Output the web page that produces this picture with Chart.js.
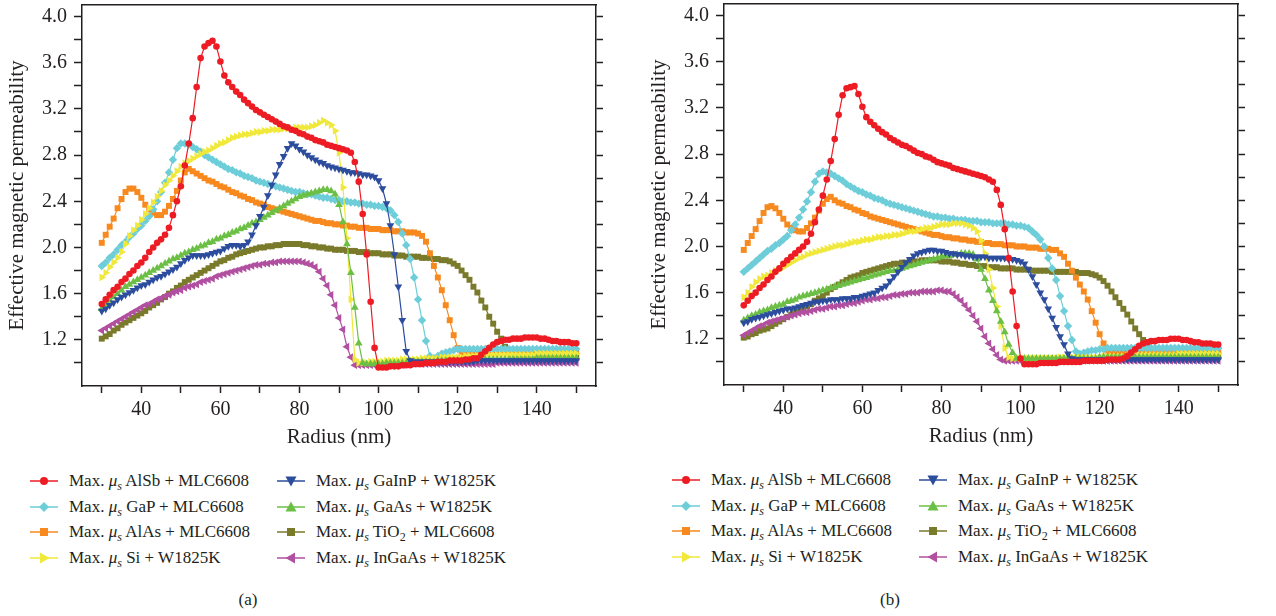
<!DOCTYPE html>
<html>
<head>
<meta charset="utf-8">
<script src="https://cdn.jsdelivr.net/npm/chart.js@4.4.1/dist/chart.umd.min.js"></script>
<style>
    html, body { margin: 0; padding: 0; background: #fff; }
    body {
        width: 1276px; height: 616px; position: relative; overflow: hidden;
        font-family: "Liberation Serif", "DejaVu Serif", serif; color: #231f20;
    }
    .panel { position: absolute; top: 0; width: 640px; height: 616px; }
    .panel canvas { position: absolute; left: 0; top: 0; }
    .legend-item {
        position: absolute; height: 24px; display: flex; align-items: center;
        font-size: 17px; white-space: nowrap;
    }
    .legend-item svg { margin-right: 11px; flex: none; }
    .legend-item sub { font-size: 12px; line-height: 0; vertical-align: -4px; }
    .caption { position: absolute; top: 590px; width: 40px; margin-left: -20px; text-align: center; font-size: 17px; }
</style>
</head>
<body>
<div class="panel" id="panelA" style="left:0"><canvas id="chartA" width="640" height="450"></canvas></div>
<div class="panel" id="panelB" style="left:642px;top:-1px"><canvas id="chartB" width="640" height="450"></canvas></div>
<div class="caption" style="left:248px">(a)</div>
<div class="caption" style="left:890px">(b)</div>

<script>
// radius axis (nm), one sample per nanometre
const radius = Array.from({ length: 121 }, (_, i) => 30 + i);

const xTicks = [30, 40, 50, 60, 70, 80, 90, 100, 110, 120, 130, 140, 150];
const xLabels = [40, 60, 80, 100, 120, 140];
const yTicks = [1.0, 1.2, 1.4, 1.6, 1.8, 2.0, 2.2, 2.4, 2.6, 2.8, 3.0, 3.2, 3.4, 3.6, 3.8, 4.0];
const yLabels = ['1.2', '1.6', '2.0', '2.4', '2.8', '3.2', '3.6', '4.0'];

const materials = ['AlSb + MLC6608', 'GaP + MLC6608', 'AlAs + MLC6608', 'Si + W1825K',
    'GaInP + W1825K', 'GaAs + W1825K', 'TiO2 + MLC6608', 'InGaAs + W1825K'];

// ---- panel (a) ----
const alsbA = [
    1.51, 1.55, 1.59, 1.63, 1.66, 1.70, 1.73, 1.77, 1.80, 1.84,
    1.87, 1.91, 1.96, 2.00, 2.04, 2.07, 2.11, 2.17, 2.28, 2.40,
    2.53, 2.71, 2.90, 3.12, 3.39, 3.64, 3.74, 3.77, 3.79, 3.74,
    3.61, 3.49, 3.43, 3.39, 3.35, 3.32, 3.28, 3.25, 3.22, 3.19,
    3.17, 3.15, 3.13, 3.11, 3.09, 3.07, 3.05, 3.04, 3.02, 3.01,
    2.99, 2.98, 2.96, 2.95, 2.93, 2.92, 2.91, 2.89, 2.88, 2.87,
    2.86, 2.85, 2.84, 2.82, 2.74, 2.57, 2.29, 1.94, 1.53, 1.13,
    0.96, 0.96, 0.96, 0.97, 0.97, 0.97, 0.98, 0.98, 0.98, 0.99,
    0.99, 0.99, 1.00, 1.00, 1.00, 1.01, 1.01, 1.01, 1.02, 1.02,
    1.02, 1.02, 1.03, 1.03, 1.04, 1.04, 1.07, 1.10, 1.13, 1.16,
    1.18, 1.19, 1.20, 1.20, 1.21, 1.21, 1.21, 1.22, 1.22, 1.22,
    1.22, 1.21, 1.21, 1.20, 1.19, 1.19, 1.18, 1.18, 1.18, 1.17,
    1.17
];
const gapA = [
    1.84, 1.87, 1.91, 1.94, 1.98, 2.02, 2.05, 2.09, 2.12, 2.16,
    2.19, 2.23, 2.27, 2.33, 2.40, 2.48, 2.56, 2.65, 2.76, 2.86,
    2.90, 2.90, 2.89, 2.87, 2.85, 2.83, 2.80, 2.78, 2.76, 2.74,
    2.72, 2.70, 2.68, 2.67, 2.65, 2.64, 2.62, 2.61, 2.60, 2.58,
    2.57, 2.56, 2.55, 2.54, 2.53, 2.52, 2.51, 2.50, 2.49, 2.48,
    2.48, 2.47, 2.46, 2.46, 2.45, 2.44, 2.43, 2.43, 2.42, 2.41,
    2.41, 2.40, 2.40, 2.39, 2.39, 2.38, 2.38, 2.37, 2.37, 2.36,
    2.36, 2.35, 2.34, 2.32, 2.28, 2.22, 2.12, 2.02, 1.90, 1.74,
    1.55, 1.37, 1.19, 1.06, 1.04, 1.06, 1.08, 1.09, 1.10, 1.11,
    1.12, 1.12, 1.12, 1.12, 1.12, 1.12, 1.12, 1.12, 1.12, 1.12,
    1.12, 1.12, 1.12, 1.12, 1.12, 1.12, 1.12, 1.12, 1.12, 1.12,
    1.12, 1.12, 1.12, 1.12, 1.12, 1.12, 1.12, 1.12, 1.12, 1.12,
    1.12
];
const alasA = [
    2.04, 2.11, 2.18, 2.25, 2.34, 2.42, 2.48, 2.51, 2.51, 2.48,
    2.43, 2.37, 2.33, 2.30, 2.28, 2.28, 2.31, 2.36, 2.42, 2.49,
    2.58, 2.65, 2.68, 2.66, 2.64, 2.62, 2.60, 2.58, 2.57, 2.55,
    2.53, 2.52, 2.50, 2.48, 2.47, 2.45, 2.44, 2.42, 2.41, 2.39,
    2.38, 2.37, 2.35, 2.34, 2.33, 2.32, 2.31, 2.30, 2.29, 2.28,
    2.27, 2.26, 2.25, 2.24, 2.23, 2.23, 2.22, 2.21, 2.21, 2.20,
    2.20, 2.19, 2.19, 2.18, 2.18, 2.17, 2.17, 2.17, 2.16, 2.16,
    2.16, 2.15, 2.15, 2.15, 2.14, 2.14, 2.14, 2.13, 2.13, 2.13,
    2.12, 2.10, 2.05, 1.95, 1.84, 1.74, 1.63, 1.50, 1.37, 1.24,
    1.13, 1.08, 1.08, 1.08, 1.09, 1.09, 1.09, 1.10, 1.10, 1.10,
    1.10, 1.10, 1.10, 1.10, 1.10, 1.10, 1.10, 1.10, 1.10, 1.10,
    1.10, 1.10, 1.10, 1.10, 1.10, 1.10, 1.10, 1.10, 1.10, 1.10,
    1.10
];
const siA = [
    1.74, 1.78, 1.83, 1.87, 1.91, 1.96, 2.03, 2.10, 2.15, 2.19,
    2.24, 2.29, 2.34, 2.39, 2.44, 2.49, 2.54, 2.58, 2.62, 2.66,
    2.70, 2.73, 2.75, 2.77, 2.79, 2.81, 2.83, 2.84, 2.86, 2.88,
    2.90, 2.91, 2.93, 2.95, 2.96, 2.97, 2.98, 2.98, 2.99, 3.00,
    3.00, 3.01, 3.01, 3.02, 3.02, 3.02, 3.03, 3.03, 3.03, 3.04,
    3.04, 3.04, 3.04, 3.05, 3.06, 3.08, 3.10, 3.08, 3.06, 3.01,
    2.82, 2.52, 2.08, 1.55, 1.03, 1.00, 1.00, 1.00, 1.01, 1.01,
    1.01, 1.01, 1.02, 1.02, 1.02, 1.02, 1.03, 1.03, 1.03, 1.03,
    1.03, 1.04, 1.04, 1.04, 1.04, 1.04, 1.05, 1.05, 1.05, 1.05,
    1.05, 1.05, 1.06, 1.06, 1.06, 1.06, 1.06, 1.07, 1.07, 1.07,
    1.07, 1.07, 1.07, 1.07, 1.07, 1.07, 1.07, 1.07, 1.07, 1.07,
    1.08, 1.08, 1.08, 1.08, 1.08, 1.08, 1.08, 1.08, 1.08, 1.08,
    1.08
];
const gainpA = [
    1.45, 1.47, 1.50, 1.52, 1.55, 1.57, 1.59, 1.61, 1.63, 1.65,
    1.67, 1.68, 1.70, 1.72, 1.74, 1.75, 1.77, 1.79, 1.81, 1.83,
    1.86, 1.89, 1.91, 1.93, 1.93, 1.93, 1.93, 1.94, 1.95, 1.96,
    1.97, 1.99, 2.01, 2.02, 2.02, 2.01, 2.02, 2.05, 2.11, 2.19,
    2.27, 2.35, 2.45, 2.54, 2.63, 2.72, 2.79, 2.86, 2.90, 2.88,
    2.85, 2.83, 2.80, 2.78, 2.76, 2.74, 2.73, 2.71, 2.70, 2.69,
    2.68, 2.67, 2.66, 2.65, 2.65, 2.64, 2.63, 2.63, 2.62, 2.61,
    2.58, 2.51, 2.38, 2.19, 1.94, 1.66, 1.37, 1.10, 1.02, 1.01,
    1.01, 1.01, 1.01, 1.01, 1.01, 1.01, 1.01, 1.01, 1.01, 1.01,
    1.01, 1.01, 1.01, 1.01, 1.01, 1.02, 1.02, 1.02, 1.02, 1.02,
    1.02, 1.02, 1.02, 1.02, 1.02, 1.02, 1.02, 1.02, 1.02, 1.02,
    1.02, 1.02, 1.02, 1.02, 1.02, 1.02, 1.02, 1.02, 1.02, 1.02,
    1.02
];
const gaasA = [
    1.47, 1.50, 1.54, 1.57, 1.60, 1.63, 1.66, 1.68, 1.70, 1.72,
    1.74, 1.76, 1.78, 1.80, 1.82, 1.84, 1.86, 1.88, 1.90, 1.91,
    1.93, 1.95, 1.96, 1.98, 1.99, 2.01, 2.02, 2.04, 2.05, 2.07,
    2.08, 2.10, 2.11, 2.13, 2.14, 2.16, 2.17, 2.19, 2.21, 2.22,
    2.24, 2.26, 2.28, 2.30, 2.32, 2.34, 2.36, 2.38, 2.40, 2.42,
    2.44, 2.45, 2.46, 2.47, 2.48, 2.49, 2.50, 2.50, 2.49, 2.46,
    2.37, 2.22, 2.03, 1.78, 1.48, 1.17, 1.00, 0.99, 0.99, 0.99,
    0.99, 0.99, 1.00, 1.00, 1.00, 1.00, 1.00, 1.00, 1.01, 1.01,
    1.01, 1.01, 1.01, 1.01, 1.01, 1.02, 1.02, 1.02, 1.02, 1.02,
    1.02, 1.02, 1.02, 1.02, 1.02, 1.03, 1.03, 1.03, 1.03, 1.03,
    1.03, 1.03, 1.03, 1.03, 1.03, 1.03, 1.03, 1.03, 1.03, 1.03,
    1.04, 1.04, 1.04, 1.04, 1.04, 1.04, 1.04, 1.04, 1.04, 1.04,
    1.04
];
const tio2A = [
    1.21, 1.23, 1.25, 1.28, 1.30, 1.33, 1.35, 1.37, 1.39, 1.41,
    1.43, 1.45, 1.48, 1.50, 1.52, 1.55, 1.57, 1.60, 1.62, 1.65,
    1.67, 1.70, 1.72, 1.74, 1.76, 1.78, 1.80, 1.82, 1.84, 1.86,
    1.88, 1.89, 1.91, 1.92, 1.94, 1.95, 1.96, 1.97, 1.98, 1.99,
    2.00, 2.00, 2.01, 2.01, 2.02, 2.02, 2.03, 2.03, 2.03, 2.03,
    2.03, 2.02, 2.02, 2.01, 2.01, 2.00, 2.00, 1.99, 1.99, 1.98,
    1.98, 1.98, 1.97, 1.97, 1.97, 1.96, 1.96, 1.96, 1.95, 1.95,
    1.95, 1.94, 1.94, 1.94, 1.93, 1.93, 1.93, 1.92, 1.92, 1.92,
    1.92, 1.91, 1.91, 1.91, 1.90, 1.90, 1.89, 1.89, 1.88, 1.86,
    1.84, 1.80, 1.76, 1.72, 1.66, 1.61, 1.54, 1.48, 1.40, 1.34,
    1.27, 1.21, 1.14, 1.09, 1.06, 1.06, 1.06, 1.06, 1.06, 1.06,
    1.06, 1.06, 1.06, 1.06, 1.06, 1.06, 1.06, 1.06, 1.06, 1.06,
    1.06
];
const ingaasA = [
    1.28, 1.30, 1.32, 1.34, 1.36, 1.38, 1.40, 1.42, 1.44, 1.46,
    1.48, 1.50, 1.51, 1.53, 1.55, 1.56, 1.58, 1.59, 1.61, 1.62,
    1.63, 1.65, 1.66, 1.67, 1.68, 1.70, 1.71, 1.72, 1.73, 1.75,
    1.76, 1.77, 1.78, 1.79, 1.80, 1.81, 1.82, 1.83, 1.84, 1.85,
    1.85, 1.86, 1.86, 1.87, 1.87, 1.88, 1.88, 1.88, 1.88, 1.88,
    1.88, 1.87, 1.86, 1.85, 1.83, 1.79, 1.73, 1.67, 1.59, 1.50,
    1.39, 1.29, 1.14, 1.05, 0.98, 0.98, 0.98, 0.98, 0.98, 0.98,
    0.98, 0.98, 0.98, 0.98, 0.98, 0.98, 0.98, 0.99, 0.99, 0.99,
    0.99, 0.99, 0.99, 0.99, 0.99, 0.99, 0.99, 0.99, 0.99, 0.99,
    0.99, 0.99, 0.99, 0.99, 0.99, 0.99, 0.99, 0.99, 0.99, 0.99,
    1.00, 1.00, 1.00, 1.00, 1.00, 1.00, 1.00, 1.00, 1.00, 1.00,
    1.00, 1.00, 1.00, 1.00, 1.00, 1.00, 1.00, 1.00, 1.00, 1.00,
    1.00
];

// ---- panel (b) ----
const alsbB = [
    1.49, 1.53, 1.57, 1.60, 1.64, 1.67, 1.71, 1.74, 1.78, 1.81,
    1.85, 1.88, 1.91, 1.94, 1.97, 2.00, 2.04, 2.11, 2.21, 2.32,
    2.44, 2.58, 2.74, 2.93, 3.14, 3.31, 3.37, 3.38, 3.39, 3.32,
    3.21, 3.12, 3.08, 3.05, 3.02, 2.99, 2.97, 2.94, 2.92, 2.90,
    2.88, 2.87, 2.85, 2.83, 2.81, 2.80, 2.78, 2.77, 2.75, 2.73,
    2.72, 2.71, 2.70, 2.68, 2.67, 2.66, 2.65, 2.64, 2.63, 2.62,
    2.61, 2.60, 2.58, 2.56, 2.49, 2.36, 2.15, 1.90, 1.61, 1.31,
    1.03, 0.98, 0.98, 0.98, 0.98, 0.99, 0.99, 0.99, 0.99, 0.99,
    1.00, 1.00, 1.00, 1.00, 1.00, 1.00, 1.01, 1.01, 1.01, 1.01,
    1.01, 1.01, 1.02, 1.02, 1.02, 1.02, 1.03, 1.05, 1.08, 1.11,
    1.14, 1.16, 1.17, 1.18, 1.18, 1.19, 1.19, 1.19, 1.20, 1.20,
    1.20, 1.19, 1.19, 1.18, 1.17, 1.17, 1.16, 1.16, 1.16, 1.15,
    1.15
];
const gapB = [
    1.78, 1.81, 1.84, 1.87, 1.90, 1.93, 1.96, 1.98, 2.01, 2.03,
    2.06, 2.09, 2.14, 2.19, 2.25, 2.32, 2.39, 2.47, 2.56, 2.63,
    2.65, 2.64, 2.63, 2.61, 2.59, 2.57, 2.54, 2.52, 2.50, 2.48,
    2.47, 2.45, 2.44, 2.42, 2.41, 2.40, 2.38, 2.37, 2.36, 2.35,
    2.34, 2.33, 2.32, 2.31, 2.30, 2.29, 2.28, 2.27, 2.26, 2.26,
    2.25, 2.25, 2.24, 2.24, 2.23, 2.23, 2.23, 2.22, 2.22, 2.22,
    2.21, 2.21, 2.21, 2.20, 2.20, 2.20, 2.20, 2.19, 2.19, 2.18,
    2.18, 2.17, 2.16, 2.13, 2.10, 2.06, 2.00, 1.90, 1.81, 1.71,
    1.57, 1.44, 1.31, 1.19, 1.09, 1.07, 1.08, 1.09, 1.10, 1.10,
    1.11, 1.11, 1.12, 1.12, 1.12, 1.12, 1.12, 1.12, 1.12, 1.12,
    1.12, 1.12, 1.12, 1.12, 1.12, 1.12, 1.12, 1.12, 1.12, 1.12,
    1.12, 1.12, 1.12, 1.12, 1.12, 1.12, 1.12, 1.12, 1.12, 1.12,
    1.12
];
const alasB = [
    1.97, 2.03, 2.09, 2.15, 2.22, 2.29, 2.34, 2.35, 2.33, 2.29,
    2.24, 2.19, 2.16, 2.14, 2.13, 2.13, 2.16, 2.20, 2.25, 2.31,
    2.37, 2.41, 2.43, 2.40, 2.38, 2.37, 2.35, 2.34, 2.32, 2.31,
    2.29, 2.28, 2.26, 2.25, 2.24, 2.23, 2.22, 2.21, 2.20, 2.19,
    2.18, 2.17, 2.16, 2.15, 2.14, 2.13, 2.12, 2.11, 2.10, 2.10,
    2.09, 2.08, 2.08, 2.07, 2.07, 2.06, 2.06, 2.05, 2.05, 2.04,
    2.04, 2.03, 2.03, 2.02, 2.02, 2.02, 2.01, 2.01, 2.01, 2.00,
    2.00, 2.00, 1.99, 1.99, 1.99, 1.98, 1.98, 1.98, 1.97, 1.97,
    1.94, 1.91, 1.85, 1.79, 1.73, 1.67, 1.61, 1.54, 1.44, 1.34,
    1.24, 1.16, 1.09, 1.08, 1.08, 1.09, 1.09, 1.09, 1.10, 1.10,
    1.10, 1.10, 1.10, 1.10, 1.10, 1.10, 1.10, 1.10, 1.10, 1.10,
    1.10, 1.10, 1.10, 1.10, 1.10, 1.10, 1.10, 1.10, 1.10, 1.10,
    1.10
];
const siB = [
    1.56, 1.60, 1.65, 1.69, 1.72, 1.74, 1.75, 1.77, 1.79, 1.80,
    1.82, 1.84, 1.86, 1.88, 1.90, 1.91, 1.93, 1.94, 1.95, 1.96,
    1.97, 1.98, 1.99, 2.00, 2.01, 2.01, 2.02, 2.03, 2.04, 2.04,
    2.05, 2.06, 2.06, 2.07, 2.08, 2.08, 2.09, 2.09, 2.10, 2.10,
    2.11, 2.12, 2.13, 2.13, 2.14, 2.15, 2.16, 2.16, 2.17, 2.18,
    2.19, 2.19, 2.19, 2.20, 2.20, 2.20, 2.19, 2.18, 2.16, 2.13,
    2.05, 1.94, 1.80, 1.64, 1.48, 1.31, 1.12, 1.04, 1.03, 1.03,
    1.03, 1.03, 1.03, 1.03, 1.03, 1.03, 1.03, 1.03, 1.03, 1.03,
    1.04, 1.04, 1.04, 1.04, 1.04, 1.04, 1.04, 1.04, 1.04, 1.04,
    1.04, 1.05, 1.05, 1.05, 1.05, 1.05, 1.05, 1.05, 1.05, 1.05,
    1.06, 1.06, 1.06, 1.06, 1.06, 1.06, 1.06, 1.06, 1.06, 1.06,
    1.07, 1.07, 1.07, 1.07, 1.07, 1.07, 1.07, 1.07, 1.07, 1.07,
    1.07
];
const gainpB = [
    1.34, 1.35, 1.37, 1.38, 1.39, 1.40, 1.41, 1.42, 1.43, 1.44,
    1.45, 1.46, 1.46, 1.47, 1.48, 1.49, 1.50, 1.51, 1.52, 1.52,
    1.53, 1.53, 1.54, 1.54, 1.54, 1.55, 1.55, 1.55, 1.56, 1.56,
    1.57, 1.58, 1.59, 1.60, 1.62, 1.64, 1.66, 1.70, 1.74, 1.78,
    1.82, 1.86, 1.89, 1.92, 1.94, 1.95, 1.96, 1.97, 1.97, 1.96,
    1.96, 1.95, 1.94, 1.94, 1.93, 1.93, 1.92, 1.92, 1.91, 1.91,
    1.91, 1.91, 1.90, 1.90, 1.90, 1.90, 1.90, 1.89, 1.89, 1.88,
    1.87, 1.85, 1.80, 1.74, 1.67, 1.60, 1.54, 1.46, 1.38, 1.30,
    1.22, 1.15, 1.07, 1.03, 1.02, 1.02, 1.02, 1.02, 1.02, 1.02,
    1.02, 1.02, 1.02, 1.02, 1.02, 1.02, 1.02, 1.02, 1.02, 1.02,
    1.02, 1.02, 1.02, 1.02, 1.02, 1.02, 1.02, 1.02, 1.02, 1.02,
    1.02, 1.02, 1.02, 1.02, 1.02, 1.02, 1.02, 1.02, 1.02, 1.02,
    1.02
];
const gaasB = [
    1.36, 1.38, 1.40, 1.41, 1.43, 1.44, 1.45, 1.47, 1.48, 1.49,
    1.50, 1.52, 1.53, 1.54, 1.56, 1.57, 1.58, 1.59, 1.60, 1.61,
    1.62, 1.63, 1.64, 1.65, 1.66, 1.67, 1.68, 1.69, 1.70, 1.71,
    1.72, 1.73, 1.74, 1.75, 1.76, 1.77, 1.78, 1.79, 1.79, 1.80,
    1.81, 1.82, 1.83, 1.84, 1.85, 1.86, 1.87, 1.88, 1.89, 1.90,
    1.91, 1.92, 1.92, 1.93, 1.93, 1.94, 1.94, 1.94, 1.93, 1.89,
    1.80, 1.72, 1.62, 1.53, 1.44, 1.35, 1.26, 1.15, 1.08, 1.03,
    1.03, 1.03, 1.03, 1.03, 1.03, 1.03, 1.03, 1.03, 1.03, 1.03,
    1.03, 1.03, 1.03, 1.03, 1.03, 1.03, 1.03, 1.03, 1.03, 1.03,
    1.04, 1.04, 1.04, 1.04, 1.04, 1.04, 1.04, 1.04, 1.04, 1.04,
    1.04, 1.04, 1.04, 1.04, 1.04, 1.04, 1.04, 1.04, 1.04, 1.04,
    1.04, 1.04, 1.04, 1.04, 1.04, 1.04, 1.04, 1.04, 1.04, 1.04,
    1.04
];
const tio2B = [
    1.21, 1.22, 1.24, 1.25, 1.27, 1.28, 1.29, 1.31, 1.33, 1.35,
    1.37, 1.39, 1.41, 1.43, 1.44, 1.46, 1.48, 1.50, 1.53, 1.55,
    1.57, 1.60, 1.63, 1.65, 1.67, 1.69, 1.71, 1.73, 1.74, 1.75,
    1.77, 1.78, 1.79, 1.80, 1.81, 1.82, 1.83, 1.84, 1.85, 1.85,
    1.86, 1.86, 1.87, 1.87, 1.87, 1.88, 1.88, 1.88, 1.88, 1.88,
    1.87, 1.87, 1.87, 1.86, 1.86, 1.85, 1.85, 1.84, 1.84, 1.83,
    1.83, 1.83, 1.82, 1.82, 1.82, 1.81, 1.81, 1.81, 1.81, 1.80,
    1.80, 1.80, 1.80, 1.79, 1.79, 1.79, 1.79, 1.79, 1.78, 1.78,
    1.78, 1.78, 1.78, 1.78, 1.78, 1.77, 1.77, 1.77, 1.76, 1.75,
    1.73, 1.70, 1.66, 1.61, 1.56, 1.51, 1.46, 1.41, 1.35, 1.29,
    1.24, 1.19, 1.15, 1.11, 1.08, 1.06, 1.06, 1.06, 1.06, 1.06,
    1.06, 1.06, 1.06, 1.06, 1.06, 1.06, 1.06, 1.06, 1.06, 1.06,
    1.06
];
const ingaasB = [
    1.23, 1.25, 1.27, 1.29, 1.31, 1.32, 1.34, 1.35, 1.36, 1.37,
    1.38, 1.39, 1.40, 1.41, 1.42, 1.43, 1.43, 1.44, 1.45, 1.46,
    1.46, 1.47, 1.48, 1.48, 1.49, 1.49, 1.50, 1.51, 1.51, 1.52,
    1.53, 1.54, 1.54, 1.55, 1.55, 1.56, 1.56, 1.57, 1.58, 1.58,
    1.59, 1.59, 1.60, 1.60, 1.60, 1.61, 1.61, 1.61, 1.61, 1.62,
    1.62, 1.61, 1.61, 1.59, 1.56, 1.53, 1.49, 1.45, 1.40, 1.35,
    1.29, 1.22, 1.16, 1.11, 1.06, 1.02, 1.01, 1.01, 1.01, 1.01,
    1.01, 1.01, 1.01, 1.01, 1.01, 1.01, 1.01, 1.01, 1.01, 1.01,
    1.01, 1.01, 1.01, 1.01, 1.01, 1.01, 1.01, 1.01, 1.01, 1.01,
    1.01, 1.01, 1.01, 1.01, 1.01, 1.01, 1.01, 1.01, 1.01, 1.01,
    1.01, 1.01, 1.01, 1.01, 1.01, 1.01, 1.01, 1.01, 1.01, 1.01,
    1.01, 1.01, 1.01, 1.01, 1.01, 1.01, 1.01, 1.01, 1.01, 1.01,
    1.01
];

// look of each material, same order as `materials`
const seriesStyle = [
    { color: '#ed1c24', marker: 'circle', order: 0 },
    { color: '#6dcdd8', marker: 'diamond', order: 4 },
    { color: '#f7891f', marker: 'square', order: 5 },
    { color: '#f0e83a', marker: 'right', order: 3 },
    { color: '#2c4c9e', marker: 'down', order: 1 },
    { color: '#6cbf45', marker: 'up', order: 2 },
    { color: '#7a7a2b', marker: 'square', order: 7 },
    { color: '#b14fa0', marker: 'left', order: 6 }
];

const pointShapes = {
    circle: { pointStyle: 'circle', rotation: 0, radius: 3.3 },
    diamond: { pointStyle: 'rectRot', rotation: 0, radius: 4.2 },
    square: { pointStyle: 'rect', rotation: 0, radius: 4.2 },
    right: { pointStyle: 'triangle', rotation: 90, radius: 4.5 },
    down: { pointStyle: 'triangle', rotation: 180, radius: 4.5 },
    up: { pointStyle: 'triangle', rotation: 0, radius: 4.5 },
    left: { pointStyle: 'triangle', rotation: 270, radius: 4.5 }
};

const ink = '#231f20';
const serif = '"Liberation Serif", "DejaVu Serif", serif';

function buildDatasets(seriesList) {
    return seriesList.map((values, i) => {
        const st = seriesStyle[i];
        const shape = pointShapes[st.marker];
        return {
            label: materials[i],
            data: values,
            order: st.order,
            borderColor: st.color,
            backgroundColor: st.color,
            borderWidth: 1.2,
            tension: 0,
            pointStyle: shape.pointStyle,
            rotation: shape.rotation,
            pointRadius: shape.radius,
            pointBorderWidth: 0,
            pointBackgroundColor: st.color
        };
    });
}

// fixed axis boxes so both panels share the same plot frame
function fixBox(size) {
    return (axis) => {
        if (axis.isHorizontal()) axis.height = size;
        else axis.width = size;
        axis.paddingTop = 0;
        axis.paddingBottom = 0;
        axis.paddingLeft = 0;
        axis.paddingRight = 0;
    };
}

function makeChart(canvasId, seriesList) {
    const frameBorder = { display: true, color: ink, width: 1.5 };
    return new Chart(document.getElementById(canvasId), {
        type: 'line',
        data: { labels: radius, datasets: buildDatasets(seriesList) },
        options: {
            responsive: false,
            animation: false,
            devicePixelRatio: 1,
            layout: { padding: 0 },
            plugins: { legend: { display: false }, tooltip: { enabled: false } },
            scales: {
                x: {
                    type: 'linear', position: 'bottom', min: 25, max: 155,
                    afterBuildTicks: (axis) => { axis.ticks = xTicks.map((v) => ({ value: v })); },
                    afterFit: fixBox(64),
                    ticks: {
                        autoSkip: false, maxRotation: 0, padding: 5, color: ink,
                        font: { family: serif, size: 20 },
                        callback: (v) => (xLabels.includes(v) ? String(v) : '')
                    },
                    grid: { drawOnChartArea: false, drawTicks: true, tickLength: 7, tickWidth: 1.5, tickColor: ink },
                    border: frameBorder,
                    title: { display: true, text: 'Radius (nm)', color: ink, font: { family: serif, size: 21 }, padding: 0 }
                },
                xTop: {
                    type: 'linear', position: 'top', min: 25, max: 155,
                    afterFit: fixBox(5),
                    ticks: { display: false },
                    grid: { display: false },
                    border: frameBorder
                },
                y: {
                    type: 'linear', position: 'left', min: 0.8, max: 4.1,
                    afterBuildTicks: (axis) => { axis.ticks = yTicks.map((v) => ({ value: v })); },
                    afterFit: fixBox(82),
                    ticks: {
                        autoSkip: false, padding: 7, color: ink, font: { family: serif, size: 20 },
                        callback: (v) => {
                            const s = Number(v).toFixed(1);
                            return yLabels.includes(s) ? s : '';
                        }
                    },
                    grid: { drawOnChartArea: false, drawTicks: true, tickLength: 8, tickWidth: 1.5, tickColor: ink },
                    border: frameBorder,
                    title: {
                        display: true, text: 'Effective magnetic permeability', color: ink,
                        font: { family: serif, size: 21 }, padding: { top: 5, bottom: 0 }
                    }
                },
                yRight: {
                    type: 'linear', position: 'right', min: 0.8, max: 4.1,
                    afterBuildTicks: (axis) => { axis.ticks = yTicks.map((v) => ({ value: v })); },
                    afterFit: fixBox(44),
                    ticks: { display: false },
                    grid: { drawOnChartArea: false, drawTicks: true, tickLength: 7, tickWidth: 1.5, tickColor: ink },
                    border: frameBorder
                }
            }
        }
    });
}

function markerSvg(marker, color) {
    let shape = '';
    switch (marker) {
        case 'circle': shape = `<circle cx="14" cy="7" r="4" fill="${color}"/>`; break;
        case 'diamond': shape = `<polygon points="14,2 19,7 14,12 9,7" fill="${color}"/>`; break;
        case 'square': shape = `<rect x="10" y="3" width="8" height="8" fill="${color}"/>`; break;
        case 'right': shape = `<polygon points="19.5,7 10,1.5 10,12.5" fill="${color}"/>`; break;
        case 'down': shape = `<polygon points="8.5,2.5 19.5,2.5 14,12.5" fill="${color}"/>`; break;
        case 'up': shape = `<polygon points="14,1.5 19.5,11.5 8.5,11.5" fill="${color}"/>`; break;
        case 'left': shape = `<polygon points="8.5,7 18,1.5 18,12.5" fill="${color}"/>`; break;
    }
    return `<svg width="28" height="14" viewBox="0 0 28 14">` +
        `<line x1="0" y1="7" x2="28" y2="7" stroke="${color}" stroke-width="1.5"/>${shape}</svg>`;
}

function legendText(material) {
    const name = material.replace('TiO2', 'TiO<sub>2</sub>');
    return `Max. <i>μ</i><sub><i>s</i></sub> ${name}`;
}

// two columns of four entries under each panel
function buildLegend(panelId) {
    const panel = document.getElementById(panelId);
    const colLeft = [30, 277];
    const rowTop = [469, 495, 520, 546];
    materials.forEach((m, i) => {
        const item = document.createElement('div');
        item.className = 'legend-item';
        item.style.left = colLeft[Math.floor(i / 4)] + 'px';
        item.style.top = rowTop[i % 4] + 'px';
        item.innerHTML = markerSvg(seriesStyle[i].marker, seriesStyle[i].color) +
            `<span>${legendText(m)}</span>`;
        panel.appendChild(item);
    });
}

makeChart('chartA', [alsbA, gapA, alasA, siA, gainpA, gaasA, tio2A, ingaasA]);
makeChart('chartB', [alsbB, gapB, alasB, siB, gainpB, gaasB, tio2B, ingaasB]);
buildLegend('panelA');
buildLegend('panelB');
</script>
</body>
</html>
